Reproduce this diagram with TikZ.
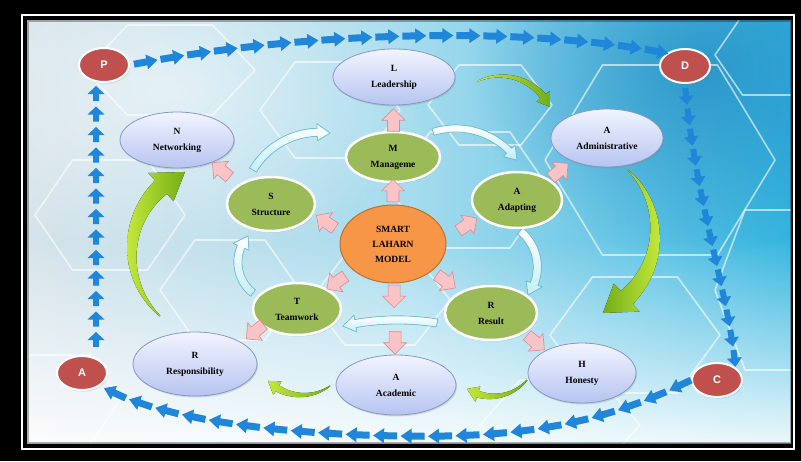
\documentclass[tikz,border=0pt]{standalone}
\usepackage{fontspec}
\setmainfont{Liberation Serif}
\newfontfamily\lsans{Liberation Sans}
\usetikzlibrary{calc,fadings,decorations.markings,shadows,shapes.geometric}

\definecolor{bgL}{HTML}{D6E3EA}
\definecolor{bgM}{HTML}{A6DCEE}
\definecolor{bgR}{HTML}{36B6E0}
\definecolor{bgDark}{HTML}{1E88C0}
\definecolor{arrblue}{HTML}{1F86DA}
\definecolor{elTop}{HTML}{F2F4FF}
\definecolor{elBot}{HTML}{B6C4F0}
\definecolor{elLine}{HTML}{8797C4}
\definecolor{grn}{HTML}{9BBB59}
\definecolor{org}{HTML}{F79646}
\definecolor{orgLine}{HTML}{BF6F2C}
\definecolor{redc}{HTML}{C0504D}
\definecolor{pinkF}{HTML}{FAC4C6}
\definecolor{pinkL}{HTML}{DC8A8E}
\definecolor{cyanL}{HTML}{6FC3D9}
\definecolor{cyanF}{HTML}{C4EEF7}
\definecolor{gA}{HTML}{C3E83A}
\definecolor{gB}{HTML}{74AE18}

\tikzfading[name=fadeup, top color=transparent!100, bottom color=transparent!0]
\tikzfading[name=radfade, inner color=transparent!0, outer color=transparent!100]

\tikzset{
  blueel/.style={ellipse, draw=elLine, line width=0.8pt, top color=elTop, bottom color=elBot,
    inner sep=0pt, align=center, font=\bfseries\fontsize{9.5}{16}\selectfont,
    drop shadow={opacity=0.25, shadow xshift=1pt, shadow yshift=-1.5pt}},
  greenel/.style={ellipse, draw=white, line width=2.5pt, fill=grn, inner sep=0pt, align=center,
    font=\bfseries\fontsize{9.5}{16}\selectfont,
    drop shadow={opacity=0.3, shadow xshift=1pt, shadow yshift=-1.5pt}},
  orangeel/.style={ellipse, draw=orgLine, line width=1pt, fill=org, inner sep=0pt, align=center,
    font=\bfseries\fontsize{9.5}{15}\selectfont},
  redcirc/.style={ellipse, draw=white, line width=2pt, fill=redc, text=white,
    font=\lsans\bfseries\fontsize{11}{11}\selectfont, inner sep=0pt,
    minimum width=50pt, minimum height=34pt,
    drop shadow={opacity=0.3, shadow xshift=1pt, shadow yshift=-1.5pt}},
  pinkarrow/.pic={\filldraw[draw=pinkL, fill=pinkF, line width=0.6pt]
    (-11,-6) -- (0,-6) -- (0,-11.5) -- (11.5,0) -- (0,11.5) -- (0,6) -- (-11,6) -- cycle;},
  hexl/.style={draw=white, line width=1.6pt, line join=round, opacity=0.6},
  cyanarr/.style={draw=cyanL, line width=0.7pt, top color=white, bottom color=cyanF},
  greenarr/.style={draw=none, left color=gA, right color=gB},
  greenarrB/.style={draw=none, left color=gB, right color=gA}
}

% long arrow (rows) and short arrows (columns)
\newcommand\bluearrow{\fill[arrblue] (-12,-3.5) -- (1,-3.5) -- (1,-7.5) -- (12,0) -- (1,7.5) -- (1,3.5) -- (-12,3.5) -- cycle;}
\newcommand\bluearrowL{\fill[arrblue] (-7,-3) -- (0,-3) -- (0,-8.5) -- (8,0) -- (0,8.5) -- (0,3) -- (-7,3) -- cycle;}
\newcommand\bluearrowR{\fill[arrblue] (-8,-3) -- (0,-3) -- (0,-7.5) -- (9,0) -- (0,7.5) -- (0,3) -- (-8,3) -- cycle;}

\newcommand\hexg[4]{\draw[hexl] (#1-#3,#2) -- (#1-#3/2,#2-#4) -- (#1+#3/2,#2-#4) -- (#1+#3,#2) -- (#1+#3/2,#2+#4) -- (#1-#3/2,#2+#4) -- cycle;}

% curved band arrow: [style]{cx}{cy}{R}{a1}{a2}{w0}{w1}{h}
\newcommand\bandarrow[9][]{%
  \pgfmathsetmacro\bcx{#2}\pgfmathsetmacro\bcy{#3}\pgfmathsetmacro\bR{#4}%
  \pgfmathsetmacro\ba{#5}\pgfmathsetmacro\bb{#6}%
  \pgfmathsetmacro\bwa{#7}\pgfmathsetmacro\bwb{#8}\pgfmathsetmacro\bh{#9}%
  \pgfmathsetmacro\bah{\bb-sign(\bb-\ba)*0.75*\bh/\bR*57.2958}%
  \filldraw[#1]
    plot[domain=\ba:\bah, samples=30, variable=\t]
      ({\bcx+(\bR+0.5*(\bwa+(\bwb-\bwa)*(\t-\ba)/(\bah-\ba)))*cos(\t)},
       {\bcy+(\bR+0.5*(\bwa+(\bwb-\bwa)*(\t-\ba)/(\bah-\ba)))*sin(\t)})
    -- ({\bcx+(\bR+0.5*\bh)*cos(\bah)},{\bcy+(\bR+0.5*\bh)*sin(\bah)})
    -- ({\bcx+\bR*cos(\bb)},{\bcy+\bR*sin(\bb)})
    -- ({\bcx+(\bR-0.5*\bh)*cos(\bah)},{\bcy+(\bR-0.5*\bh)*sin(\bah)})
    -- plot[domain=\bah:\ba, samples=30, variable=\t]
      ({\bcx+(\bR-0.5*(\bwa+(\bwb-\bwa)*(\t-\ba)/(\bah-\ba)))*cos(\t)},
       {\bcy+(\bR-0.5*(\bwa+(\bwb-\bwa)*(\t-\ba)/(\bah-\ba)))*sin(\t)})
    -- cycle;}

\begin{document}
\begin{tikzpicture}[x=1pt,y=-1pt]
\useasboundingbox (0,0) rectangle (801,461);
% frame
\fill[black] (0,0) rectangle (801,461);
\draw[white, line width=2pt] (21.5,14.5) rectangle (794,448.5);
% background
\begin{scope}
  \clip (27,20) rectangle (791,443);
  \shade[left color=bgL, right color=bgR, middle color=bgM] (27,20) rectangle (791,443);
  \fill[bgDark, path fading=radfade, fill opacity=0.7] (700,70) ellipse [x radius=230, y radius=190];
  \fill[white, path fading=radfade, fill opacity=0.55] (170,90) ellipse [x radius=260, y radius=170];
  \fill[white, path fading=fadeup, fill opacity=0.9] (27,240) rectangle (791,443);
  \hexg{170}{70}{85}{45}
  \hexg{330}{110}{70}{48}
  \hexg{110}{215}{75}{55}
  \hexg{230}{290}{70}{50}
  \hexg{470}{190}{80}{58}
  \hexg{490}{105}{62}{40}
  \hexg{660}{160}{115}{95}
  \hexg{635}{335}{85}{58}
  \hexg{775}{290}{60}{80}
  \hexg{380}{300}{70}{45}
  \hexg{560}{425}{80}{45}
  \hexg{770}{55}{55}{40}
  \hexg{60}{400}{60}{45}
  \draw[black, opacity=0.3, line width=3pt] (27,20) rectangle (791,443);
\end{scope}

% green curved arrows
\bandarrow[greenarr]{218.9}{252.05}{87}{132.6}{247}{1}{18}{38}
\bandarrow[greenarrB]{567.7}{233.15}{87.3}{-46.3}{66.2}{1}{18}{38}
\bandarrow[greenarr]{500.7}{130.9}{54.8}{-114.5}{-25.9}{1}{7}{17}
\bandarrow[greenarr]{491.9}{350.2}{46.1}{40.3}{122.7}{1}{7}{16}
\bandarrow[greenarr]{301.95}{347}{48}{54.3}{135}{1}{7}{16}

% light cyan curved arrows
\bandarrow[cyanarr]{319.25}{209.25}{77}{-149.4}{-82}{8}{8}{17}
\bandarrow[cyanarr]{455.7}{203.8}{75.3}{-107.5}{-35.5}{7}{7}{16}
\bandarrow[cyanarr]{490.7}{267.1}{46.6}{-50.9}{36.8}{8}{8}{17}
\bandarrow[cyanarr]{397.8}{567.9}{248}{-80.9}{-102.8}{8}{8}{17}
\bandarrow[cyanarr]{276.9}{262.2}{39}{127.8}{222.2}{8}{8}{17}

% nodes
\node[redcirc] (P) at (104,65) {P};
\node[redcirc] (D) at (685,66) {D};
\node[redcirc] (A1) at (82,373) {A};
\node[redcirc] (C) at (717,380) {C};

\node[blueel, minimum width=122pt, minimum height=56pt] (L) at (394,77) {L\\Leadership};
\node[blueel, minimum width=114pt, minimum height=56pt] (N) at (177,140) {N\\Networking};
\node[blueel, minimum width=112pt, minimum height=58pt] (Ad) at (607,138) {A\\Administrative};
\node[blueel, minimum width=124pt, minimum height=64pt] (Re) at (195,364) {R\\Responsibility};
\node[blueel, minimum width=120pt, minimum height=60pt] (Ac) at (396,385) {A\\Academic};
\node[blueel, minimum width=108pt, minimum height=60pt] (H) at (582,373) {H\\Honesty};

\node[greenel, minimum width=94pt, minimum height=50pt] (M) at (393,157) {M\\Manageme};
\node[greenel, minimum width=88pt, minimum height=54pt] (S) at (271,204) {S\\Structure};
\node[greenel, minimum width=90pt, minimum height=56pt] (Ap) at (517,200) {A\\Adapting};
\node[greenel, minimum width=88pt, minimum height=52pt] (T) at (297,309) {T\\Teamwork};
\node[greenel, minimum width=92pt, minimum height=54pt] (Rs) at (491,313) {R\\Result};

\node[orangeel, minimum width=106pt, minimum height=78pt] (O) at (393,244) {SMART\\LAHARN\\MODEL};

% pink block arrows
\pic[rotate=90] at ($(O)!0.61!(M)$) {pinkarrow};
\pic[rotate=90] at ($(M)!0.46!(L)$) {pinkarrow};
\pic[rotate=145] at ($(O)!0.55!(S)$) {pinkarrow};
\pic[rotate=35] at ($(O)!0.6!(Ap)+(0,7)$) {pinkarrow};
\pic[rotate=-145] at ($(O)!0.59!(T)$) {pinkarrow};
\pic[rotate=-35] at ($(O)!0.54!(Rs)$) {pinkarrow};
\pic[rotate=-90] at ($(O)!0.37!(Ac)$) {pinkarrow};
\pic[rotate=-90] at ($(O)!0.70!(Ac)$) {pinkarrow};
\pic[rotate=140] at ($(S)!0.53!(N)$) {pinkarrow};
\pic[rotate=40] at ($(Ap)!0.47!(Ad)$) {pinkarrow};
\pic[rotate=-140] at ($(T)!0.41!(Re)$) {pinkarrow};
\pic[rotate=-40] at ($(Rs)!0.49!(H)$) {pinkarrow};

% blue arrow chains
\coordinate (lcB) at (96,346);
\coordinate (lcT) at (96,84);
\path[decoration={markings, mark=between positions 16pt and -8pt step 27pt with {\bluearrow}}, decorate]
  (P.east) .. controls (320,28) and (540,28) .. (D.north west);
\path[decoration={markings, mark=between positions 12pt and -8pt step 20.5pt with {\bluearrowR}}, decorate]
  (D.south) .. controls (695,200) and (728,290) .. (C.north east);
\path[decoration={markings, mark=between positions 12pt and -6pt step 27.5pt with {\bluearrow}}, decorate]
  (C.west) .. controls (600,425) and (520,438) .. (400,436) .. controls (280,434) and (160,420) .. (A1.south east);
\path[decoration={markings, mark=between positions 6pt and -2pt step 20.5pt with {\bluearrowL}}, decorate]
  (lcB) -- (lcT);
\end{tikzpicture}
\end{document}
